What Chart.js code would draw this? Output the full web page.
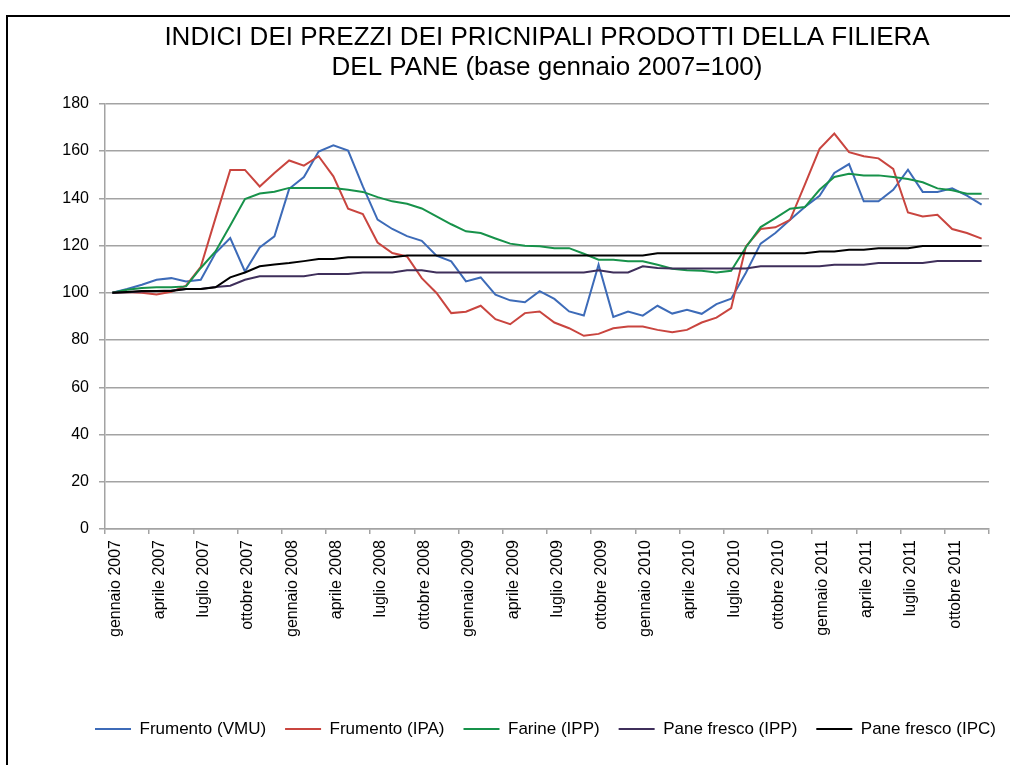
<!DOCTYPE html>
<html><head><meta charset="utf-8">
<script src="https://cdn.jsdelivr.net/npm/chart.js@4.4.1/dist/chart.umd.min.js"></script>
<style>html,body{margin:0;padding:0;background:#fff;}#wrap{position:relative;width:1010px;height:765px;}</style>
</head><body><div id="wrap"><canvas id="c"></canvas></div>
<script>
const monthNames = ['gennaio','febbraio','marzo','aprile','maggio','giugno','luglio','agosto','settembre','ottobre','novembre','dicembre'];
const years = [2007, 2008, 2009, 2010, 2011];
const categories = [];
for (const y of years) for (const m of monthNames) categories.push(m + ' ' + y);

const seriesNames = ['Frumento (VMU)', 'Frumento (IPA)', 'Farine (IPP)', 'Pane fresco (IPP)', 'Pane fresco (IPC)'];

const frumentoVMU = [100,101.6,103.4,105.5,106.2,104.8,105.5,116.8,123.2,109,119.2,123.9,
  144,149,159.8,162.4,160.2,145,131,127,124,122,115.7,113.3,
  104.8,106.5,99.2,96.8,96,100.7,97.4,92.1,90.4,111.9,89.8,92.1,
  90.3,94.5,91.2,92.8,91.1,95.2,97.5,108.5,120.8,125.3,130.9,136.3,
  141.1,150.7,154.5,138.7,138.7,143.6,152.1,142.7,142.7,144.2,141.1,137.3];
const frumentoIPA = [100,100.3,100,99.3,100.4,103,111,131.6,152,152,145,150.7,
  156,153.8,157.8,149.3,135.6,133.3,121.3,116.8,115.4,106.2,99.9,91.4,
  92,94.5,88.8,86.7,91.4,92.1,87.4,85,81.8,82.6,85,85.7,
  85.7,84.3,83.3,84.3,87.4,89.5,93.5,119.6,127,127.7,130.9,145.8,
  160.9,167.4,159.5,157.8,156.9,152.4,134,132.3,133,127,125.3,122.9];
const farineIPP = [100,101.3,102,102.3,102.3,102.7,110.5,117.5,128.5,139.7,142,142.8,
  144.4,144.4,144.4,144.4,143.6,142.7,140.5,138.7,137.7,135.7,132.3,129,
  126,125.3,123,120.8,119.9,119.7,118.9,118.9,116.5,114,114,113.3,
  113.3,111.9,110.2,109.5,109.3,108.6,109.3,119.3,127.8,131.6,135.6,136.3,
  143.6,149,150.4,149.7,149.7,149,148.2,146.8,144.2,143.4,141.9,141.9];
const paneIPP = [100,100.2,100.5,100.7,101,101.6,101.6,102.4,103,105.5,107,107,
  107,107,108,108,108,108.6,108.6,108.6,109.5,109.5,108.6,108.6,
  108.6,108.6,108.6,108.6,108.6,108.6,108.6,108.6,108.6,109.5,108.6,108.6,
  111.2,110.5,110.3,110.3,110.3,110.3,110.3,110.3,111.2,111.2,111.2,111.2,
  111.2,111.9,111.9,111.9,112.6,112.6,112.6,112.6,113.4,113.4,113.4,113.4];
const paneIPC = [100,100.3,100.7,100.7,100.8,101.6,101.6,102.3,106.5,108.6,111.2,112,
  112.6,113.4,114.3,114.3,115,115,115,115,115.8,115.8,115.8,115.8,
  115.8,115.8,115.8,115.8,115.8,115.8,115.8,115.8,115.8,115.8,115.8,115.8,
  115.8,116.7,116.7,116.7,116.7,116.7,116.7,116.7,116.7,116.7,116.7,116.7,
  117.5,117.5,118.2,118.2,118.9,118.9,118.9,119.8,119.8,119.8,119.8,119.8];

const yTicks = [0,20,40,60,80,100,120,140,160,180];
const colors = ['#3d6bb8', '#c9453f', '#17924a', '#3f2f5b', '#000000'];
const GRAY = '#a3a3a3';

Chart.defaults.font.family = "'Liberation Sans', Arial, sans-serif";
Chart.defaults.color = '#000';

const frame = {
  id: 'frame',
  beforeDraw(chart) {
    const c = chart.ctx; c.save(); c.fillStyle = '#fff'; c.fillRect(0, 0, chart.width, chart.height); c.restore();
  },
  afterDraw(chart) {
    const c = chart.ctx; c.save(); c.strokeStyle = '#000'; c.lineWidth = 2;
    c.beginPath(); c.moveTo(7, chart.height + 5); c.lineTo(7, 16); c.lineTo(chart.width + 5, 16); c.stroke(); c.restore();
  }
};
const legendShift = {
  id: 'legendShift',
  afterLayout(chart) { if (chart.legend) { chart.legend.left += 76; chart.legend.right += 76; } }
};

const allSeries = [frumentoVMU, frumentoIPA, farineIPP, paneIPP, paneIPC];
new Chart(document.getElementById('c'), {
  type: 'line',
  data: {
    labels: categories,
    datasets: allSeries.map((d, i) => ({
      label: seriesNames[i], data: d, borderColor: colors[i], backgroundColor: colors[i],
      borderWidth: 2, pointRadius: 0, pointHoverRadius: 0, tension: 0, fill: false, order: 5 - i
    }))
  },
  options: {
    responsive: true, maintainAspectRatio: false, animation: false, devicePixelRatio: 1,
    layout: { padding: { left: 0, right: 21, top: 0, bottom: 17.5 } },
    plugins: {
      title: {
        display: true, fullSize: false,
        text: ['INDICI DEI PREZZI DEI PRICNIPALI PRODOTTI DELLA FILIERA', 'DEL PANE (base gennaio 2007=100)'],
        font: { size: 26, weight: 'normal', lineHeight: 1.15 }, color: '#000',
        padding: { top: 23, bottom: 21 }
      },
      legend: {
        position: 'bottom', align: 'start',
        labels: {
          usePointStyle: true, pointStyle: 'line', pointStyleWidth: 36,
          font: { size: 17 }, color: '#000', padding: 19,
          sort: (a, b) => a.datasetIndex - b.datasetIndex
        }
      },
      tooltip: { enabled: false }
    },
    scales: {
      x: {
        type: 'category', offset: true,
        grid: {
          offset: true, drawOnChartArea: false, tickLength: 5, lineWidth: 1.5,
          color: (ctx) => (ctx.index === undefined || ctx.index % 3 === 0) ? GRAY : 'rgba(0,0,0,0)'
        },
        border: { color: GRAY, width: 1.5 },
        ticks: {
          autoSkip: false, maxRotation: 90, minRotation: 90, padding: 6, labelOffset: 3,
          font: { size: 16 }, color: '#000',
          callback: (v, i) => (i % 3 === 0 ? categories[i] : '')
        },
        afterFit(s) { s.height = 172.5; }
      },
      y: {
        min: 0, max: 180,
        afterBuildTicks(s) { s.ticks = yTicks.map(v => ({ value: v })); },
        ticks: { font: { size: 16 }, color: '#000', padding: 10 },
        grid: { color: GRAY, lineWidth: 1.5, tickLength: 6 },
        border: { color: GRAY, width: 1.5 },
        afterFit(s) { s.width = 105; }
      }
    }
  },
  plugins: [frame, legendShift]
});
</script>
</body></html>
